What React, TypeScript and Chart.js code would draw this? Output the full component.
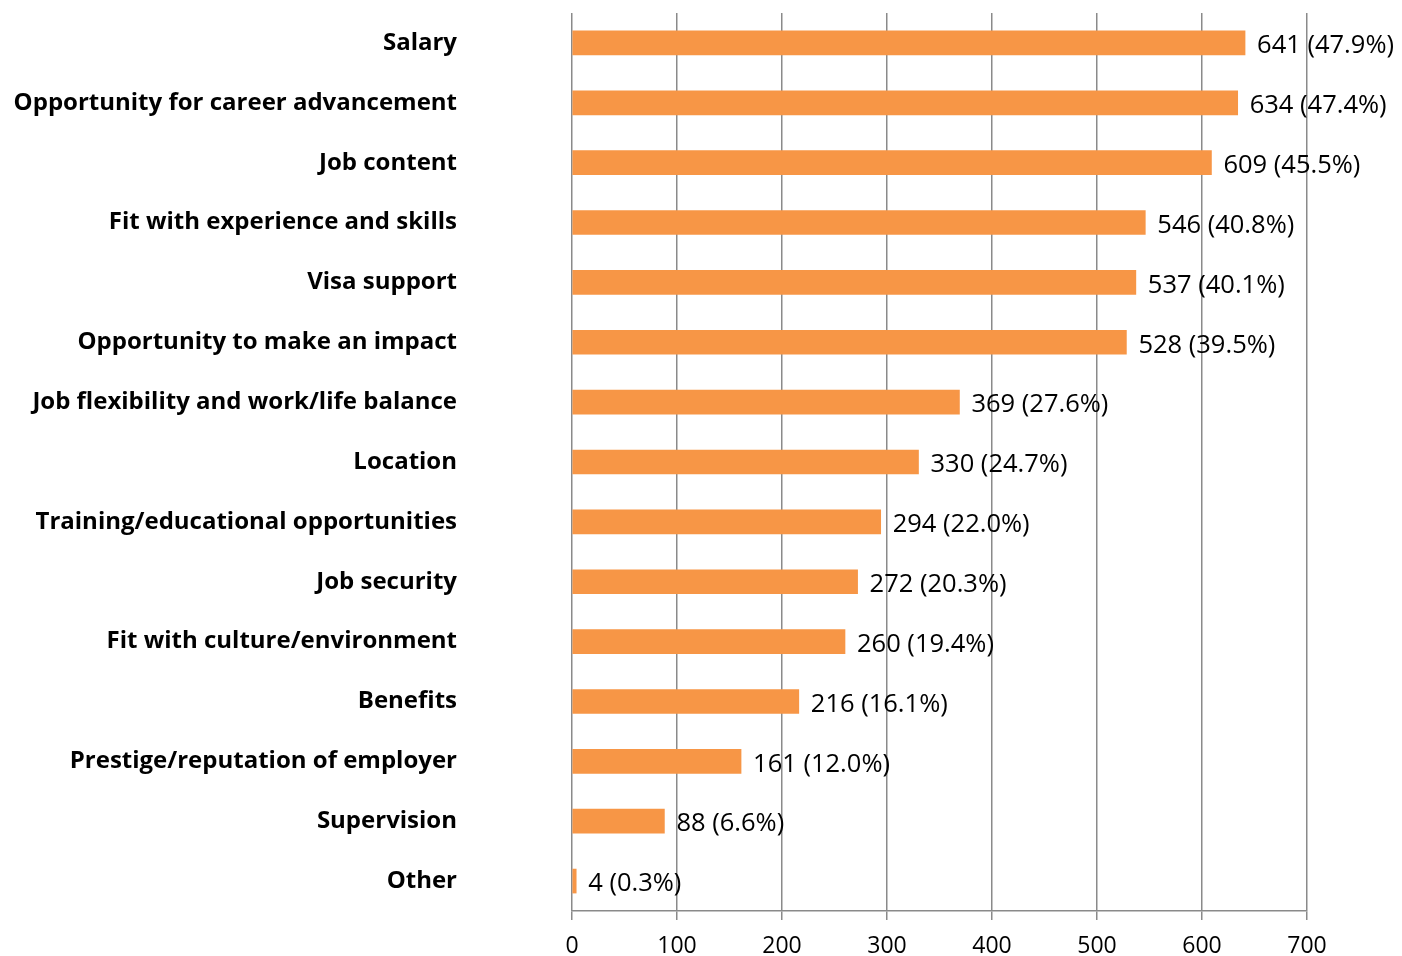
import React, { useEffect, useRef } from "react";
import { Chart, registerables } from "chart.js";

Chart.register(...registerables);

const categories = [
  "Salary",
  "Opportunity for career advancement",
  "Job content",
  "Fit with experience and skills",
  "Visa support",
  "Opportunity to make an impact",
  "Job flexibility and work/life balance",
  "Location",
  "Training/educational opportunities",
  "Job security",
  "Fit with culture/environment",
  "Benefits",
  "Prestige/reputation of employer",
  "Supervision",
  "Other",
];

const counts = [641, 634, 609, 546, 537, 528, 369, 330, 294, 272, 260, 216, 161, 88, 4];
const percents = ["47.9", "47.4", "45.5", "40.8", "40.1", "39.5", "27.6", "24.7", "22.0", "20.3", "19.4", "16.1", "12.0", "6.6", "0.3"];

const xTicks = [0, 100, 200, 300, 400, 500, 600, 700];

const BAR_COLOR = "#F79646";
const GRID_COLOR = "#8a8a8a";
const FONT = "'Open Sans', Lato, sans-serif";

const valueLabels = {
  id: "valueLabels",
  afterDatasetsDraw(chart: any) {
    const ctx = chart.ctx;
    const meta = chart.getDatasetMeta(0);
    const yScale = chart.scales.y;
    ctx.save();
    ctx.fillStyle = "#000";
    ctx.textBaseline = "middle";
    ctx.font = `400 25.5px ${FONT}`;
    ctx.textAlign = "left";
    meta.data.forEach((el: any, i: number) => {
      ctx.fillText(`${counts[i]} (${percents[i]}%)`, el.x + 12, el.y + 3);
    });
    ctx.font = `700 24px ${FONT}`;
    ctx.textAlign = "right";
    categories.forEach((c, i) => {
      ctx.fillText(c, 457, yScale.getPixelForTick(i));
    });
    ctx.restore();
  },
};

export default function App() {
  const ref = useRef<HTMLCanvasElement | null>(null);
  useEffect(() => {
    if (!ref.current) return;
    const chart = new Chart(ref.current, {
      type: "bar",
      data: {
        labels: categories,
        datasets: [
          {
            data: counts,
            backgroundColor: BAR_COLOR,
            borderWidth: 0,
            barThickness: 24,
          },
        ],
      },
      options: {
        indexAxis: "y",
        responsive: false,
        animation: false,
        layout: { padding: { left: 0, right: 95, top: 13, bottom: 0 } },
        plugins: {
          legend: { display: false },
          tooltip: { enabled: false },
        },
        scales: {
          x: {
            min: 0,
            max: 700,
            afterBuildTicks(scale: any) {
              scale.ticks = xTicks.map((v) => ({ value: v }));
            },
            afterFit(scale: any) {
              scale.height = 45;
            },
            grid: {
              color: GRID_COLOR,
              lineWidth: 1.5,
              drawTicks: true,
              tickLength: 9,
              tickColor: GRID_COLOR,
            },
            border: { color: GRID_COLOR, width: 1.5 },
            ticks: {
              color: "#000",
              font: { family: FONT, size: 23 },
              padding: 13,
              maxRotation: 0,
            },
          },
          y: {
            afterFit(scale: any) {
              scale.width = 572;
            },
            grid: { display: false, drawTicks: false },
            border: { display: false },
            ticks: { display: false },
          },
        },
      },
      plugins: [valueLabels],
    });
    return () => chart.destroy();
  }, []);
  return (
    <div style={{ position: "fixed", left: 0, top: 0, width: 1402, height: 956, background: "#fff" }}>
      <canvas ref={ref} width={1402} height={956} style={{ display: "block" }} />
    </div>
  );
}
